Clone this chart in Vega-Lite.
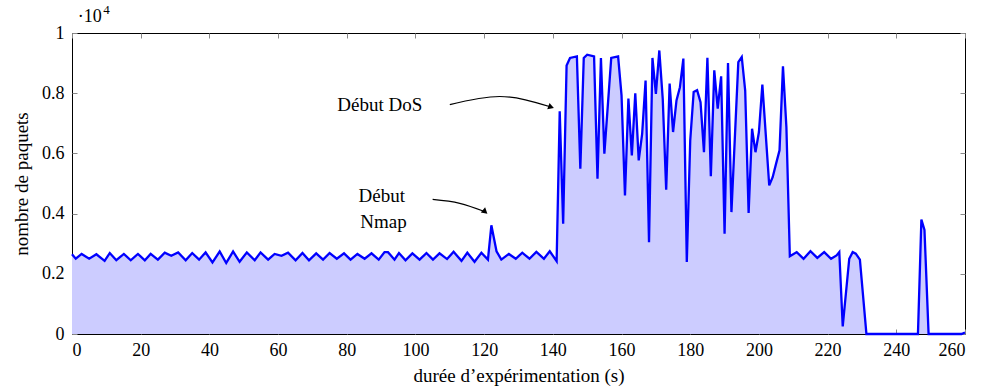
{
  "$schema": "https://vega.github.io/schema/vega-lite/v6.json",
  "width": 893,
  "height": 301,
  "autosize": "none",
  "padding": {"left": 72, "top": 33, "right": 17, "bottom": 58},
  "background": "white",
  "config": {
    "font": "'Liberation Serif', 'DejaVu Serif', serif",
    "view": {"stroke": "black", "strokeWidth": 1},
    "axis": {"grid": false, "labelFont": "'Liberation Serif', 'DejaVu Serif', serif", "titleFont": "'Liberation Serif', 'DejaVu Serif', serif", "labelFontSize": 18, "titleFontSize": 19, "labelColor": "black", "titleColor": "black", "titleFontWeight": "normal", "domainColor": "black", "tickColor": "#888888", "tickSize": -5}
  },
  "datasets": {
    "series": [
      {"t": 0, "v": 0.265}, {"t": 1.1, "v": 0.25}, {"t": 2.8, "v": 0.266}, {"t": 5.0, "v": 0.25}, {"t": 7.1, "v": 0.265},
      {"t": 9.5, "v": 0.243}, {"t": 11.0, "v": 0.269}, {"t": 12.9, "v": 0.245}, {"t": 15.1, "v": 0.266}, {"t": 17.1, "v": 0.245},
      {"t": 19.2, "v": 0.266}, {"t": 21.2, "v": 0.245}, {"t": 22.9, "v": 0.266}, {"t": 25.0, "v": 0.247}, {"t": 27.0, "v": 0.27},
      {"t": 28.9, "v": 0.26}, {"t": 30.9, "v": 0.271}, {"t": 33.1, "v": 0.245}, {"t": 35.0, "v": 0.269}, {"t": 37.0, "v": 0.247},
      {"t": 38.9, "v": 0.271}, {"t": 40.9, "v": 0.238}, {"t": 43.0, "v": 0.274}, {"t": 44.9, "v": 0.236}, {"t": 46.9, "v": 0.274},
      {"t": 48.8, "v": 0.24}, {"t": 50.9, "v": 0.271}, {"t": 53.2, "v": 0.245}, {"t": 54.9, "v": 0.271}, {"t": 57.1, "v": 0.247},
      {"t": 59.0, "v": 0.266}, {"t": 61.0, "v": 0.26}, {"t": 62.9, "v": 0.27}, {"t": 65.1, "v": 0.245}, {"t": 67.1, "v": 0.269},
      {"t": 69.0, "v": 0.245}, {"t": 71.1, "v": 0.268}, {"t": 73.1, "v": 0.247}, {"t": 75.0, "v": 0.269}, {"t": 77.1, "v": 0.25},
      {"t": 79.2, "v": 0.268}, {"t": 81.1, "v": 0.247}, {"t": 83.1, "v": 0.266}, {"t": 85.2, "v": 0.25}, {"t": 87.2, "v": 0.268},
      {"t": 89.3, "v": 0.247}, {"t": 91.0, "v": 0.272}, {"t": 92.0, "v": 0.272}, {"t": 93.9, "v": 0.247}, {"t": 95.2, "v": 0.269},
      {"t": 97.1, "v": 0.245}, {"t": 99.1, "v": 0.268}, {"t": 101.2, "v": 0.247}, {"t": 103.2, "v": 0.269}, {"t": 105.1, "v": 0.247},
      {"t": 107.0, "v": 0.268}, {"t": 109.2, "v": 0.249}, {"t": 111.1, "v": 0.273}, {"t": 113.4, "v": 0.243}, {"t": 115.1, "v": 0.27},
      {"t": 117.2, "v": 0.24}, {"t": 119.2, "v": 0.27}, {"t": 121.1, "v": 0.247}, {"t": 122.1, "v": 0.361}, {"t": 123.6, "v": 0.275},
      {"t": 125.0, "v": 0.247}, {"t": 127.2, "v": 0.266}, {"t": 129.2, "v": 0.25}, {"t": 131.1, "v": 0.27}, {"t": 133.2, "v": 0.25},
      {"t": 135.2, "v": 0.273}, {"t": 137.4, "v": 0.25}, {"t": 139.1, "v": 0.275}, {"t": 141.1, "v": 0.242},
      {"t": 142, "v": 0.74}, {"t": 143, "v": 0.366}, {"t": 144, "v": 0.892}, {"t": 145, "v": 0.917}, {"t": 147, "v": 0.922},
      {"t": 148, "v": 0.549}, {"t": 149, "v": 0.917}, {"t": 150, "v": 0.928}, {"t": 152, "v": 0.922}, {"t": 153, "v": 0.516},
      {"t": 154, "v": 0.917}, {"t": 155, "v": 0.599}, {"t": 157, "v": 0.917}, {"t": 159, "v": 0.922}, {"t": 160, "v": 0.793},
      {"t": 161, "v": 0.46}, {"t": 162, "v": 0.782}, {"t": 163, "v": 0.593}, {"t": 164, "v": 0.8}, {"t": 165, "v": 0.577},
      {"t": 166, "v": 0.665}, {"t": 167, "v": 0.842}, {"t": 168, "v": 0.305}, {"t": 169, "v": 0.917}, {"t": 170, "v": 0.798},
      {"t": 171, "v": 0.942}, {"t": 172, "v": 0.78}, {"t": 173, "v": 0.479}, {"t": 174, "v": 0.832}, {"t": 175, "v": 0.671},
      {"t": 176, "v": 0.776}, {"t": 177, "v": 0.82}, {"t": 178, "v": 0.915}, {"t": 179, "v": 0.239}, {"t": 180, "v": 0.643},
      {"t": 181, "v": 0.804}, {"t": 182, "v": 0.81}, {"t": 183, "v": 0.77}, {"t": 184, "v": 0.604}, {"t": 185, "v": 0.918},
      {"t": 186, "v": 0.524}, {"t": 187, "v": 0.876}, {"t": 188, "v": 0.749}, {"t": 189, "v": 0.856}, {"t": 190, "v": 0.333},
      {"t": 191, "v": 0.9}, {"t": 192, "v": 0.405}, {"t": 194, "v": 0.903}, {"t": 195, "v": 0.92}, {"t": 196, "v": 0.809},
      {"t": 197, "v": 0.402}, {"t": 198, "v": 0.682}, {"t": 199, "v": 0.604}, {"t": 200, "v": 0.671}, {"t": 201, "v": 0.829},
      {"t": 203, "v": 0.494}, {"t": 204, "v": 0.521}, {"t": 205, "v": 0.566}, {"t": 206, "v": 0.61}, {"t": 207, "v": 0.889},
      {"t": 208, "v": 0.687}, {"t": 209, "v": 0.258}, {"t": 211, "v": 0.272}, {"t": 213, "v": 0.25}, {"t": 215, "v": 0.275},
      {"t": 217, "v": 0.253}, {"t": 219, "v": 0.272}, {"t": 221, "v": 0.25}, {"t": 222.6, "v": 0.261}, {"t": 223.4, "v": 0.272},
      {"t": 224.4, "v": 0.025}, {"t": 226.3, "v": 0.25}, {"t": 227.3, "v": 0.272}, {"t": 228.2, "v": 0.267}, {"t": 229.4, "v": 0.247},
      {"t": 231.3, "v": 0}, {"t": 246.3, "v": 0}, {"t": 247.3, "v": 0.38}, {"t": 248.2, "v": 0.346}, {"t": 249.4, "v": 0},
      {"t": 259, "v": 0}, {"t": 260, "v": 0.005}
    ],
    "arrows": [
      {"g": "dos", "t": 110.0, "v": 0.762}, {"g": "dos", "t": 124.5, "v": 0.789}, {"g": "dos", "t": 139.5, "v": 0.754},
      {"g": "nmap", "t": 105.0, "v": 0.447}, {"g": "nmap", "t": 112.9, "v": 0.434}, {"g": "nmap", "t": 120.3, "v": 0.406}
    ],
    "heads": [
      {"g": "dos", "t": 139.5, "v": 0.754, "a": 20},
      {"g": "nmap", "t": 120.3, "v": 0.406, "a": 40}
    ],
    "notes": [
      {"t": 89.6, "v": 0.76, "label": "Début DoS"},
      {"t": 90.2, "v": 0.457, "label": "Début"},
      {"t": 90.7, "v": 0.371, "label": "Nmap"}
    ],
    "expo": [
      {"t": 1.7, "v": 1.052, "label": "·10"}
    ],
    "expo4": [
      {"t": 9.1, "v": 1.078, "label": "4"}
    ]
  },
  "layer": [
    {
      "data": {"name": "series"},
      "mark": {"type": "area", "color": "#ccccff", "opacity": 1, "line": {"color": "#0000ff", "strokeWidth": 2.3, "strokeJoin": "miter"}},
      "encoding": {
        "x": {"field": "t", "type": "quantitative", "scale": {"domain": [0, 260], "nice": false, "zero": false},
              "axis": {"orient": "bottom", "values": [0,20,40,60,80,100,120,140,160,180,200,220,240,260], "title": "durée d’expérimentation (s)", "labelPadding": 12, "titlePadding": 7, "domain": false}},
        "y": {"field": "v", "type": "quantitative", "scale": {"domain": [0, 1], "nice": false},
              "axis": {"orient": "left", "values": [0, 0.2, 0.4, 0.6, 0.8, 1], "format": "~g", "title": "nombre de paquets", "labelPadding": 13, "titlePadding": 10, "domain": false}}
      }
    },
    {
      "data": {"name": "series"},
      "mark": {"type": "point", "opacity": 0},
      "encoding": {
        "x": {"field": "t", "type": "quantitative", "axis": {"orient": "top", "values": [0,20,40,60,80,100,120,140,160,180,200,220,240,260], "labels": false, "title": null, "domain": false}},
        "y": {"field": "v", "type": "quantitative", "axis": {"orient": "right", "values": [0, 0.2, 0.4, 0.6, 0.8, 1], "labels": false, "title": null, "domain": false}}
      }
    },
    {
      "data": {"name": "arrows"},
      "mark": {"type": "line", "color": "black", "strokeWidth": 1.2, "interpolate": "monotone"},
      "encoding": {
        "x": {"field": "t", "type": "quantitative", "axis": null},
        "y": {"field": "v", "type": "quantitative", "axis": null},
        "detail": {"field": "g"}
      }
    },
    {
      "data": {"name": "heads"},
      "mark": {"type": "point", "shape": "triangle-right", "filled": true, "color": "black", "size": 45, "opacity": 1},
      "encoding": {
        "x": {"field": "t", "type": "quantitative", "axis": null},
        "y": {"field": "v", "type": "quantitative", "axis": null},
        "angle": {"field": "a", "type": "quantitative", "scale": null}
      }
    },
    {
      "data": {"name": "notes"},
      "mark": {"type": "text", "font": "'Liberation Serif', 'DejaVu Serif', serif", "fontSize": 19, "align": "center", "baseline": "middle", "color": "black"},
      "encoding": {
        "x": {"field": "t", "type": "quantitative", "axis": null},
        "y": {"field": "v", "type": "quantitative", "axis": null},
        "text": {"field": "label"}
      }
    },
    {
      "data": {"name": "expo"},
      "mark": {"type": "text", "font": "'Liberation Serif', 'DejaVu Serif', serif", "fontSize": 18, "align": "left", "baseline": "middle", "color": "black"},
      "encoding": {
        "x": {"field": "t", "type": "quantitative", "axis": null},
        "y": {"field": "v", "type": "quantitative", "axis": null},
        "text": {"field": "label"}
      }
    },
    {
      "data": {"name": "expo4"},
      "mark": {"type": "text", "font": "'Liberation Serif', 'DejaVu Serif', serif", "fontSize": 13, "align": "left", "baseline": "middle", "color": "black"},
      "encoding": {
        "x": {"field": "t", "type": "quantitative", "axis": null},
        "y": {"field": "v", "type": "quantitative", "axis": null},
        "text": {"field": "label"}
      }
    }
  ],
  "resolve": {"axis": {"x": "independent", "y": "independent"}}
}
